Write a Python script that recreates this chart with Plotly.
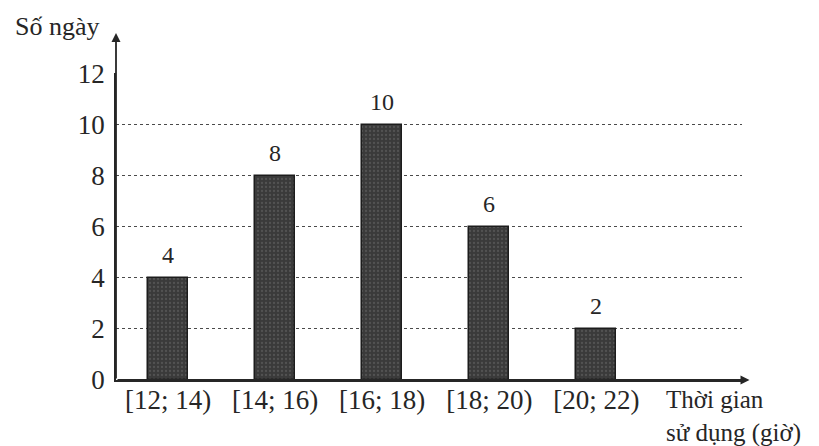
import plotly.graph_objects as go

# Số ngày theo thời gian sử dụng (giờ)
categories = ["[12; 14)", "[14; 16)", "[16; 18)", "[18; 20)", "[20; 22)"]
so_ngay = [4, 8, 10, 6, 2]
y_ticks = [0, 2, 4, 6, 8, 10, 12]

positions = list(range(len(categories)))
FONT = "Liberation Serif, Times New Roman, serif"
INK = "#262626"

fig = go.Figure()
fig.add_trace(go.Bar(
    x=positions,
    y=so_ngay,
    width=0.375,
    marker=dict(
        color="#3a3a3a",
        line=dict(color="#1c1c1c", width=1.5),
        pattern=dict(shape=".", fgcolor="#6a6a6a", size=4, solidity=0.25),
    ),
    hoverinfo="x+y",
))

# Giá trị ghi trên đỉnh mỗi cột
for xp, v in zip(positions, so_ngay):
    fig.add_annotation(x=xp, y=v, xref="x", yref="y", text=str(v),
                       showarrow=False, yanchor="bottom", yshift=8,
                       font=dict(family=FONT, size=24, color=INK))

x_lo, x_hi = -0.486, 5.36
fig.update_layout(
    width=819, height=446,
    margin=dict(l=116, r=77, t=73, b=66),
    paper_bgcolor="white", plot_bgcolor="white",
    showlegend=False,
    bargap=0,
    font=dict(family=FONT, size=27, color=INK),
    xaxis=dict(
        range=[x_lo, x_hi],
        tickvals=positions, ticktext=categories,
        showgrid=False, zeroline=False,
        showline=True, linecolor=INK, linewidth=1.8,
        ticks="", ticklabelstandoff=-5,
        tickfont=dict(family=FONT, size=27, color=INK),
    ),
    yaxis=dict(
        range=[0, 12.03], tickvals=y_ticks,
        showgrid=True, gridcolor="#4a4a4a", gridwidth=1.2, griddash="dot",
        zeroline=False,
        showline=True, linecolor=INK, linewidth=1.8,
        ticks="", ticklabelstandoff=4,
        tickfont=dict(family=FONT, size=27, color=INK),
    ),
)

# Mũi tên trục tung và trục hoành
fig.add_annotation(x=x_lo, y=13.6, ax=x_lo, ay=0, xref="x", yref="y",
                   axref="x", ayref="y", text="", showarrow=True,
                   arrowhead=2, arrowsize=1, arrowwidth=1.8, arrowcolor=INK)
fig.add_annotation(x=5.43, y=0, ax=x_lo, ay=0, xref="x", yref="y",
                   axref="x", ayref="y", text="", showarrow=True,
                   arrowhead=2, arrowsize=1, arrowwidth=1.8, arrowcolor=INK)

# Nhãn trục
fig.add_annotation(x=-0.093, y=1.15, xref="paper", yref="paper",
                   text="Số ngày", showarrow=False, xanchor="center", yanchor="middle",
                   font=dict(family=FONT, size=26, color=INK))
fig.add_annotation(x=0.875, y=-0.013, xref="paper", yref="paper",
                   text="Thời gian<br>sử dụng (giờ)", showarrow=False,
                   xanchor="left", yanchor="top", align="left",
                   font=dict(family=FONT, size=25, color=INK))

fig.write_html("out.html")
